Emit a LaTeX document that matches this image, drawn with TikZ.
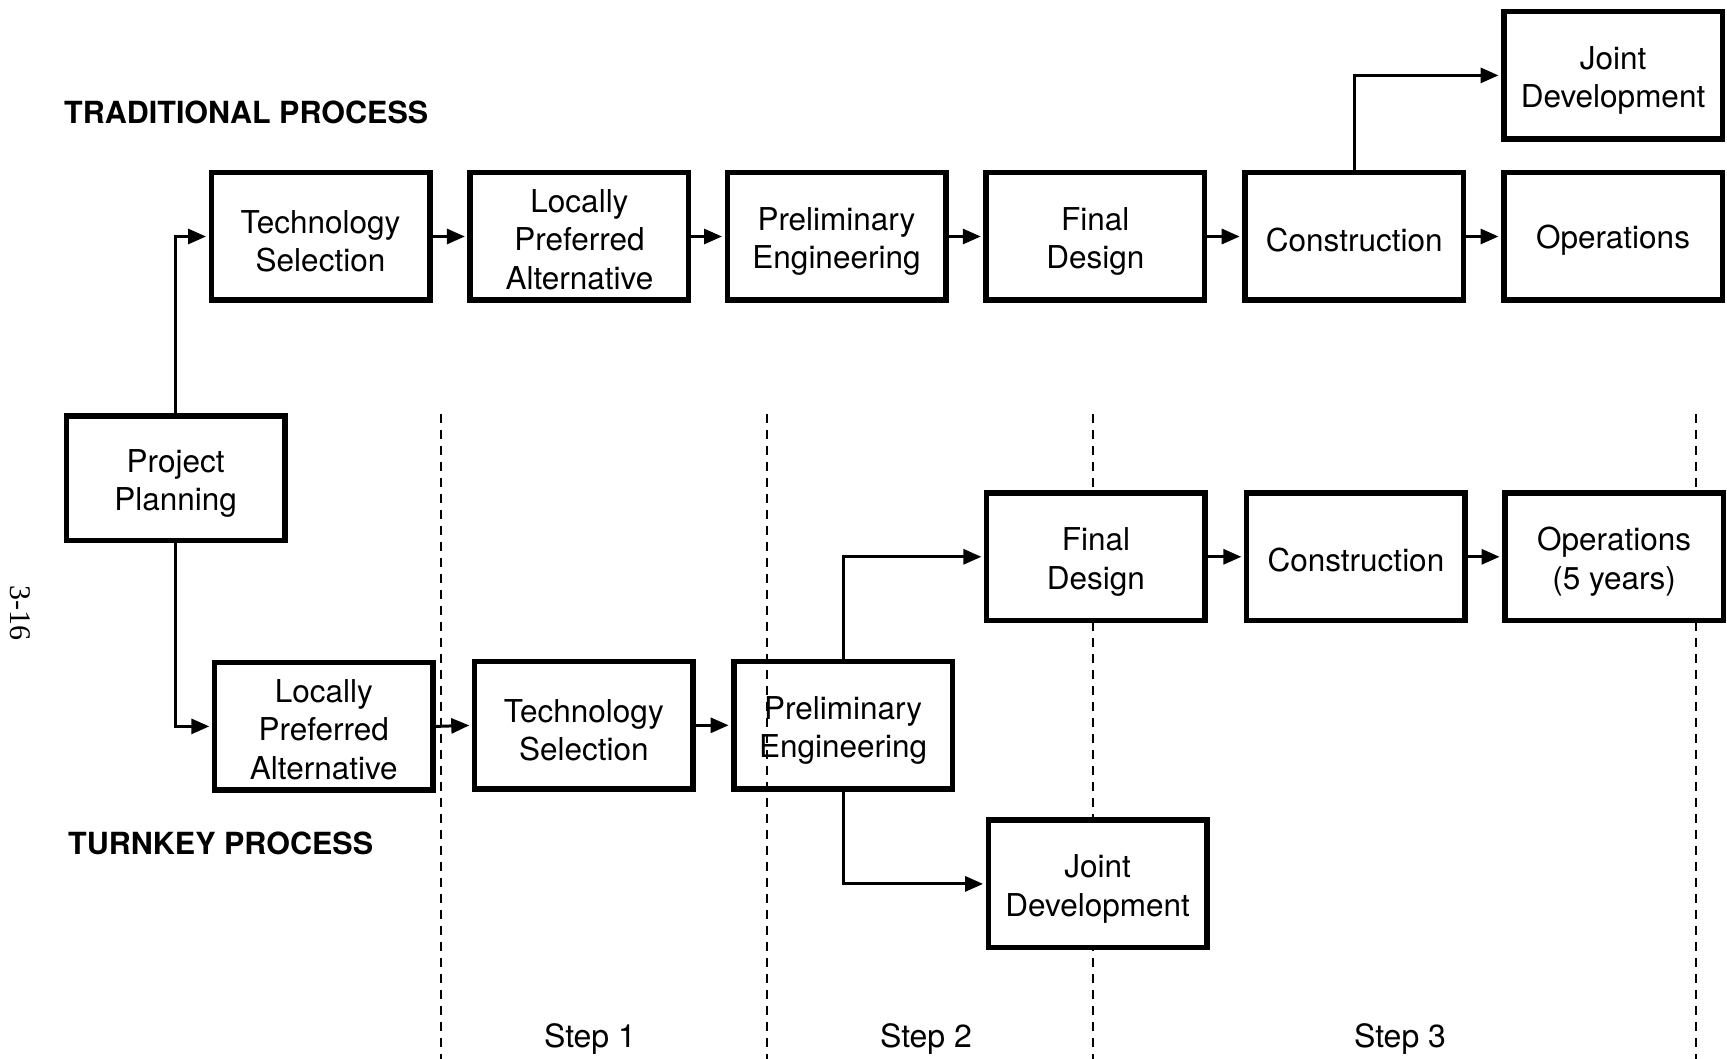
\documentclass[tikz,border=0pt]{standalone}
\usepackage{fontspec}
\setmainfont{TeX Gyre Heros}
\newfontfamily\pagefont{Liberation Serif}
\usetikzlibrary{arrows.meta}
% a framed process box and its centred caption
\newcommand\flowbox[5][]{%
  \node[box,#1] (#2) at (#3) {};
  \node[boxtext] (#2-txt) at ([yshift=#4]#2.center) {#5};}
\begin{document}
\begin{tikzpicture}[x=1pt,y=-1pt,
  box/.style={draw,line width=5.5pt,fill=white,minimum width=218.5pt,minimum height=127.5pt,
    inner sep=0pt},
  boxtext/.style={align=center,inner sep=0pt,font=\fontsize{31.5}{38.5}\selectfont},
  flow/.style={line width=3pt,-{Triangle[length=18pt,width=15pt]},shorten >=2.5pt},
  stepline/.style={line width=2pt,dash pattern=on 9pt off 7pt},
  head/.style={font=\fontsize{30.5}{36}\selectfont\bfseries,anchor=base west,inner sep=0pt},
  steplabel/.style={font=\fontsize{32}{36}\selectfont,anchor=base,inner sep=0pt}]
\useasboundingbox (0,0) rectangle (1727,1059);

% step dividers
\foreach \x in {440.6,766.6,1092.6,1696}
  \draw[stepline] (\x,414) -- (\x,1059);

% headings
\node[head] (trad) at (64,124) {TRADITIONAL PROCESS};
\node[head] (turn) at (68,854) {TURNKEY PROCESS};
\node[rotate=-90,font=\pagefont\fontsize{30}{32}\selectfont,inner sep=0pt] (page) at (20,613) {3-16};

% step labels
\node[steplabel] (s1) at (590,1047) {Step 1};
\node[steplabel] (s2) at (926,1047) {Step 2};
\node[steplabel] (s3) at (1400,1047) {Step 3};

% project planning
\flowbox[minimum height=124.5pt]{pp}{175.6,478.3}{-5pt}{Project\\Planning}

% traditional process
\flowbox{tts}{320.5,236.5}{-5pt}{Technology\\Selection}
\flowbox{tlpa}{579.4,236.5}{-3pt}{Locally\\Preferred\\Alternative}
\flowbox{tpe}{836.5,236.5}{-5pt}{Preliminary\\Engineering}
\flowbox{tfd}{1095.3,236.5}{-5pt}{Final\\Design}
\flowbox{tcon}{1354.2,236.5}{-3.5pt}{Construction}
\flowbox{tops}{1613,236.5}{-3.5pt}{Operations}
\flowbox{tjd}{1613,75.4}{-5pt}{Joint\\Development}

% turnkey process
\flowbox{klpa}{323.8,726.4}{-3pt}{Locally\\Preferred\\Alternative}
\flowbox{kts}{583.8,725.3}{-5pt}{Technology\\Selection}
\flowbox[fill=none]{kpe}{843.1,725.3}{-5pt}{Preliminary\\Engineering}
\flowbox{kfd}{1095.9,556.8}{-5pt}{Final\\Design}
\flowbox{kcon}{1355.9,556.8}{-3.5pt}{Construction}
\flowbox{kops}{1614.1,556.8}{-5pt}{Operations\\(5 years)}
\flowbox{kjd}{1097.6,883.9}{-5pt}{Joint\\Development}

% connectors
\draw[flow] (pp.north) |- (tts.west);
\draw[flow] (pp.south) |- (klpa.west);

\draw[flow] (tts) -- (tlpa);
\draw[flow] (tlpa) -- (tpe);
\draw[flow] (tpe) -- (tfd);
\draw[flow] (tfd) -- (tcon);
\draw[flow] (tcon) -- (tops);
\draw[flow] (tcon.north) |- (tjd.west);

\draw[flow] (klpa.east) -- (kts.west);
\draw[flow] (kts) -- (kpe);
\draw[flow] (kpe.north) |- (kfd.west);
\draw[flow] (kpe.south) |- (kjd.west);
\draw[flow] (kfd) -- (kcon);
\draw[flow] (kcon) -- (kops);
\end{tikzpicture}
\end{document}
